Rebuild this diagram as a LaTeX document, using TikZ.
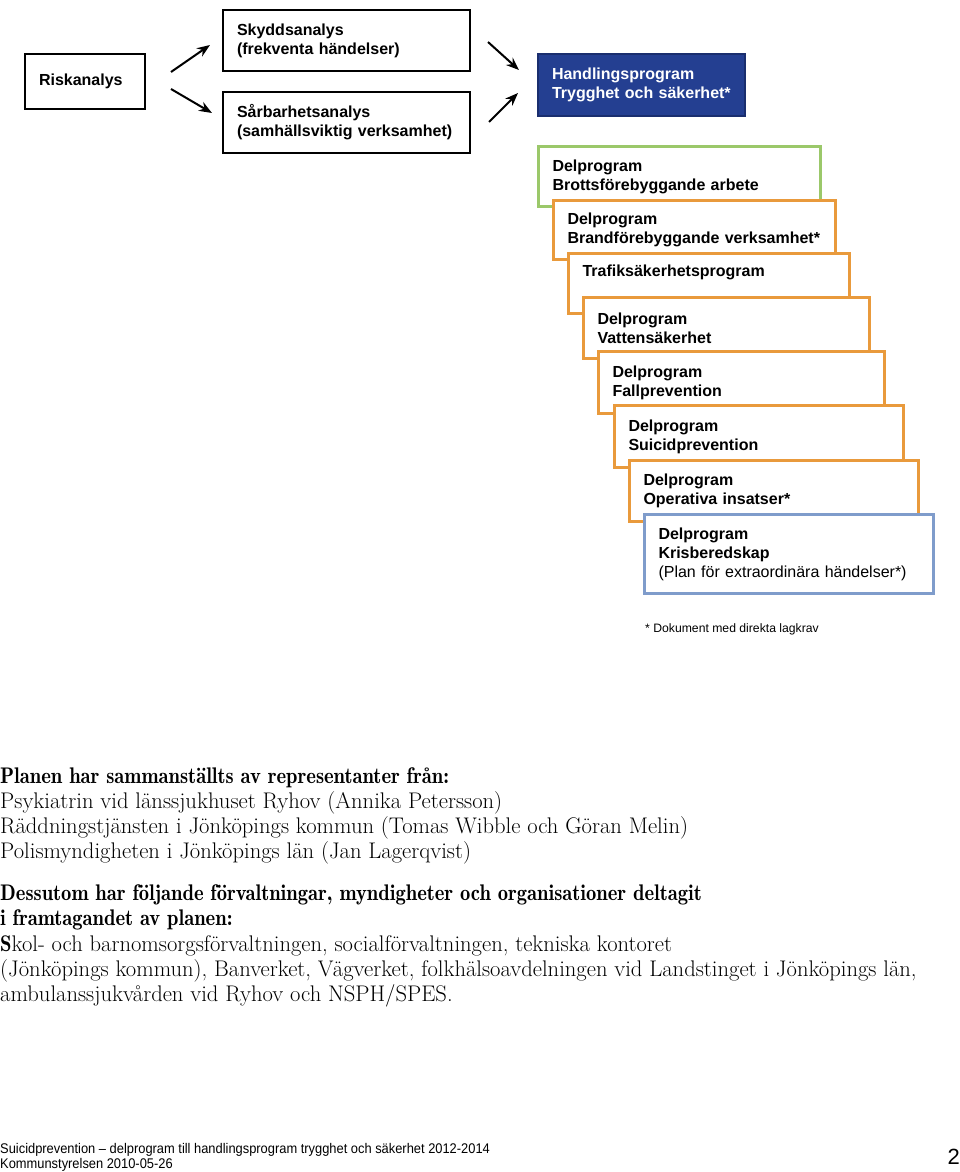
\documentclass[tikz,border=0pt]{standalone}
\usepackage{fontspec}
\usepackage{graphicx}
\usetikzlibrary{arrows.meta}
\newfontfamily\hv{Liberation Sans}
\newfontface\lmdemi{lmromandemi10-regular.otf}[Ligatures=TeX, FakeStretch=0.91]
\definecolor{navyfill}{HTML}{243F91}
\definecolor{navyline}{HTML}{1A2E6E}
\definecolor{greenline}{HTML}{9BC86A}
\definecolor{orangeline}{HTML}{E99A3C}
\definecolor{blueline}{HTML}{7F9CCB}
\tikzset{
  boxbase/.style={rectangle, anchor=north west, inner xsep=14pt, inner ysep=0pt, align=left,
    font=\hv\bfseries\fontsize{16}{19}\selectfont},
  blackbox/.style={boxbase, draw=black, line width=2pt, fill=white},
  navybox/.style={boxbase, draw=navyline, line width=2pt, fill=navyfill, text=white},
  greenbox/.style={boxbase, draw=greenline, line width=3pt, fill=white},
  orangebox/.style={boxbase, draw=orangeline, line width=3pt, fill=white},
  bluebox/.style={boxbase, draw=blueline, line width=3pt, fill=white},
  arr/.style={line width=2pt, -{Stealth[length=13pt,width=10pt]}},
  body/.style={anchor=base west, inner sep=0pt, font=\fontsize{22.6}{25}\selectfont},
  bodyb/.style={anchor=base west, inner sep=0pt, font=\lmdemi\fontsize{22.6}{25}\selectfont},
  foot/.style={anchor=base west, inner sep=0pt, font=\hv\fontsize{14}{15}\selectfont},
}
\begin{document}
\begin{tikzpicture}[x=1pt,y=-1pt]
\useasboundingbox (0,0) rectangle (960,1172);

% upper left boxes
\node[blackbox, text width=92pt, minimum height=55pt] (risk) at (24,53) {Riskanalys};
\node[blackbox, text width=219pt, minimum height=61pt] (skydd) at (222,9) {Skyddsanalys\\(frekventa händelser)};
\node[blackbox, text width=219pt, minimum height=61pt] (sarb) at (222,91) {Sårbarhetsanalys\\(samhällsviktig verksamhet)};
\node[navybox, text width=179pt, minimum height=62pt] (handl) at (537,53) {Handlingsprogram\\Trygghet och säkerhet*};

% arrows
\coordinate (a1s) at (171,72);
\coordinate (a1e) at (210,45);
\coordinate (a2s) at (171,89);
\coordinate (a2e) at (212,113);
\coordinate (a3s) at (488,42);
\coordinate (a3e) at (519,70);
\coordinate (a4s) at (489,122);
\coordinate (a4e) at (518,93);
\draw[arr] (a1s) -- (a1e);
\draw[arr] (a2s) -- (a2e);
\draw[arr] (a3s) -- (a3e);
\draw[arr] (a4s) -- (a4e);

% stacked programme boxes
\node[greenbox, text width=254pt, minimum height=60pt] (brott) at (537,145) {Delprogram\\Brottsförebyggande arbete};
\node[orangebox, text width=254pt, minimum height=59pt] (brand) at (552,199) {Delprogram\\Brandförebyggande verksamhet*};
\node[orangebox, text width=253pt, minimum height=60pt] (trafik) at (567,252) {Trafiksäkerhetsprogram\\\strut};
\node[orangebox, text width=258pt, minimum height=61pt] (vatten) at (582,296) {Delprogram\\Vattensäkerhet};
\node[orangebox, text width=258pt, minimum height=62pt] (fall) at (597,350) {Delprogram\\Fallprevention};
\node[orangebox, text width=261pt, minimum height=62pt] (suicid) at (613,404) {Delprogram\\Suicidprevention};
\node[orangebox, text width=261pt, minimum height=61pt] (oper) at (628,459) {Delprogram\\Operativa insatser*};
\node[bluebox, text width=261pt, minimum height=79pt] (kris) at (643,513) {Delprogram\\Krisberedskap\\{\mdseries (Plan för extraordinära händelser*)}};

\node[anchor=base west, inner sep=0pt, font=\hv\fontsize{12.2}{13}\selectfont] (note) at (645,632) {* Dokument med direkta lagkrav};

% body text
\node[bodyb] (t1) at (0,783) {Planen har sammanställts av representanter från:};
\node[body] (t2) at (0,808) {Psykiatrin vid länssjukhuset Ryhov (Annika Petersson)};
\node[body] (t3) at (0,833) {Räddningstjänsten i Jönköpings kommun (Tomas Wibble och Göran Melin)};
\node[body] (t4) at (0,858) {Polismyndigheten i Jönköpings län (Jan Lagerqvist)};
\node[bodyb] (t5) at (0,900) {Dessutom har följande förvaltningar, myndigheter och organisationer deltagit};
\node[bodyb] (t6) at (0,925) {i framtagandet av planen:};
\node[body] (t7) at (0,951) {{\lmdemi S}kol- och barnomsorgsförvaltningen, socialförvaltningen, tekniska kontoret};
\node[body] (t8) at (0,976) {(Jönköpings kommun), Banverket, Vägverket, folkhälsoavdelningen vid Landstinget i Jönköpings län,};
\node[body] (t9) at (0,1001) {ambulanssjukvården vid Ryhov och NSPH/SPES.};

% footer
\node[foot] (f1) at (0,1153) {\scalebox{0.92}[1]{Suicidprevention – delprogram till handlingsprogram trygghet och säkerhet 2012-2014}};
\node[foot] (f2) at (0,1168) {\scalebox{0.92}[1]{Kommunstyrelsen 2010-05-26}};
\node[anchor=base east, inner sep=0pt, font=\hv\fontsize{22}{24}\selectfont] (pg) at (960,1164) {2};
\end{tikzpicture}
\end{document}
